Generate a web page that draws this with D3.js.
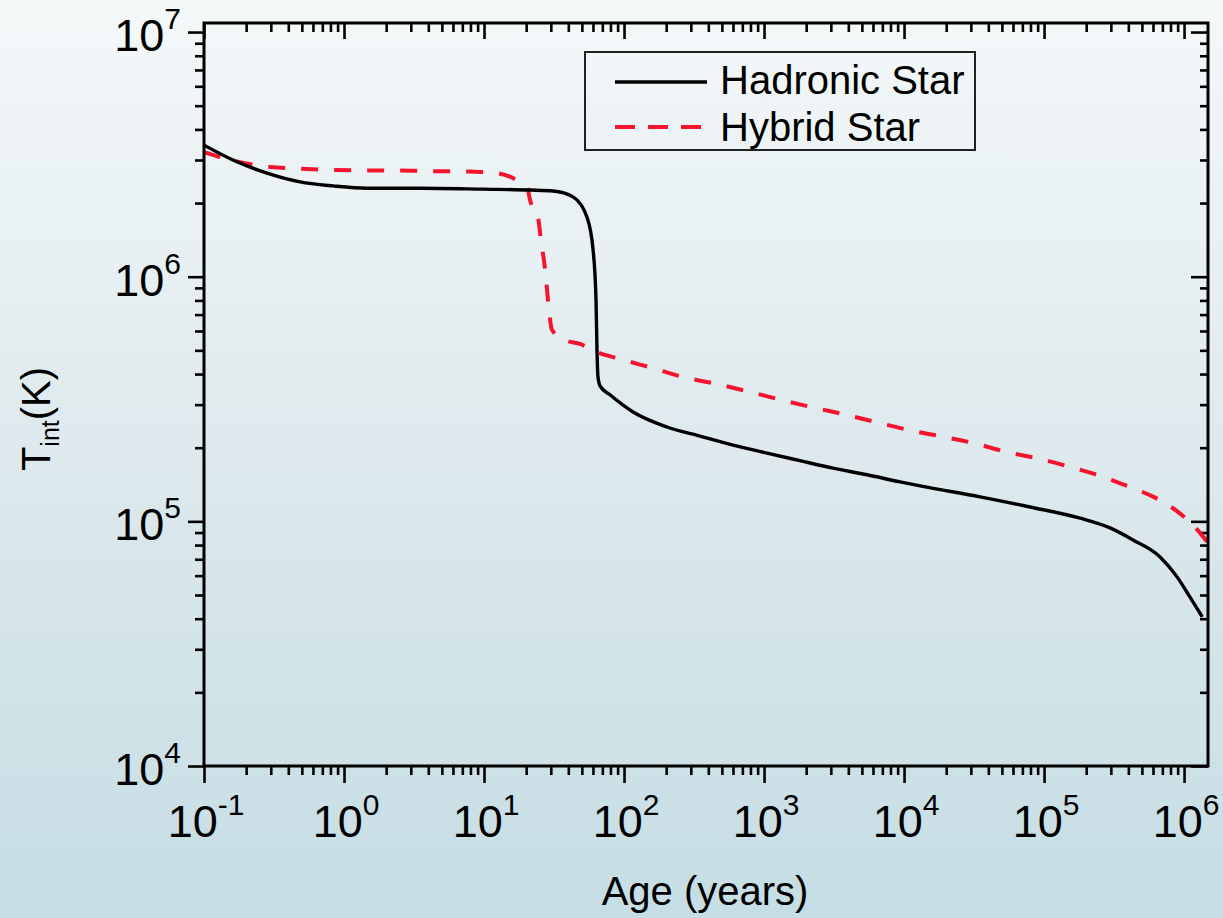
<!DOCTYPE html>
<html>
<head>
<meta charset="utf-8">
<script src="https://cdn.jsdelivr.net/npm/d3@7"></script>
<style>
  html, body { margin: 0; padding: 0; }
  body { width: 1223px; height: 918px; overflow: hidden; }
  svg text { font-family: "Liberation Sans", Arial, Helvetica, sans-serif; fill: #000; }
</style>
</head>
<body>
<svg id="chart" width="1223" height="918"></svg>
<script>
// Cooling curves: internal temperature vs. age
const seriesNames = ["Hadronic Star", "Hybrid Star"];

const hadronicAge = [0.1, 0.161, 0.282, 0.485, 0.834, 1.46, 3.49, 9.84, 21.3, 31.1,
  43.2, 54.4, 60.1, 63.1, 64.1, 65.2, 67.4, 79.4, 116, 203,
  349, 601, 1050, 1807, 3112, 5445, 9360, 1.46e4, 3.49e4, 7.94e4,
  1.81e5, 2.96e5, 4.32e5, 6.74e5, 8.91e5, 1.10e6, 1.35e6];
const hadronicTemp = [3.45e6, 3.00e6, 2.65e6, 2.44e6, 2.35e6, 2.30e6, 2.30e6, 2.28e6, 2.26e6, 2.24e6,
  2.12e6, 1.75e6, 1.29e6, 8.03e5, 5.01e5, 3.89e5, 3.58e5, 3.29e5, 2.80e5, 2.43e5,
  2.23e5, 2.05e5, 1.90e5, 1.77e5, 1.65e5, 1.55e5, 1.45e5, 1.38e5, 1.26e5, 1.145e5,
  1.03e5, 9.4e4, 8.39e4, 7.15e4, 5.93e4, 4.91e4, 4.07e4];

const hybridAge = [0.1, 0.181, 0.296, 0.462, 0.834, 1.46, 2.51, 4.32, 7.56, 12.4,
  17.2, 20.3, 21.3, 24.3, 25.5, 27.3, 28.2, 29.1, 30.6, 37.9,
  48.5, 64.1, 93.6, 158, 264, 462, 794, 1345, 2312, 3917,
  6740, 1.16e4, 1.81e4, 3.11e4, 5.44e4, 9.36e4, 1.53e5, 2.64e5, 4.11e5, 6.21e5,
  9.68e5, 1.30e6, 1.48e6];
const hybridTemp = [3.23e6, 2.94e6, 2.81e6, 2.77e6, 2.73e6, 2.72e6, 2.72e6, 2.70e6, 2.69e6, 2.65e6,
  2.48e6, 2.33e6, 2.06e6, 1.75e6, 1.41e6, 1.07e6, 8.82e5, 7.31e5, 6.06e5, 5.51e5,
  5.31e5, 4.92e5, 4.61e5, 4.24e5, 3.89e5, 3.64e5, 3.38e5, 3.13e5, 2.91e5, 2.72e5,
  2.52e5, 2.34e5, 2.23e5, 2.09e5, 1.92e5, 1.80e5, 1.67e5, 1.52e5, 1.38e5, 1.25e5,
  1.06e5, 8.97e4, 8.16e4];

const xTickExponents = [-1, 0, 1, 2, 3, 4, 5, 6];
const yTickExponents = [4, 5, 6, 7];
const xLabel = "Age (years)";
const yLabelMain = "T", yLabelSub = "int", yLabelUnit = "(K)";

// ---- layout ----
const svg = d3.select("#chart");
const W = 1223, H = 918;
const plot = { left: 204, right: 1208, top: 23, bottom: 766 };

const x = d3.scaleLog().domain([0.1, Math.pow(10, 6.171)]).range([plot.left, plot.right]);
const y = d3.scaleLog().domain([1e4, Math.pow(10, 7.037)]).range([plot.bottom, plot.top]);

// background wash
const defs = svg.append("defs");
const grad = defs.append("linearGradient").attr("id", "bg").attr("x1", 0).attr("y1", 0).attr("x2", 0).attr("y2", 1);
grad.append("stop").attr("offset", "0%").attr("stop-color", "#f4f8f9");
grad.append("stop").attr("offset", "50%").attr("stop-color", "#dde9ed");
grad.append("stop").attr("offset", "100%").attr("stop-color", "#c5dde4");
svg.append("rect").attr("width", W).attr("height", H).attr("fill", "url(#bg)");

defs.append("clipPath").attr("id", "plotclip").append("rect")
  .attr("x", plot.left).attr("y", plot.top)
  .attr("width", plot.right - plot.left).attr("height", plot.bottom - plot.top);

// tick values
function minorTicks(scale) {
  const [a, b] = scale.domain();
  const out = [];
  for (let e = Math.floor(Math.log10(a)); e <= Math.ceil(Math.log10(b)); e++) {
    for (let k = 2; k <= 9; k++) {
      const v = k * Math.pow(10, e);
      if (v > a && v < b) out.push(v);
    }
  }
  return out;
}
const xMajor = xTickExponents.map(e => Math.pow(10, e));
const yMajor = yTickExponents.map(e => Math.pow(10, e));
const xMinor = minorTicks(x);
const yMinor = minorTicks(y);

function styleAxis(g) {
  g.select(".domain").remove();
  g.selectAll(".tick line").attr("stroke", "#000").attr("stroke-width", 2.6);
  g.selectAll(".tick text").remove();
}

// bottom (outward)
svg.append("g").attr("transform", `translate(0,${plot.bottom})`)
  .call(d3.axisBottom(x).tickValues(xMinor).tickSize(9).tickFormat("")).call(styleAxis);
svg.append("g").attr("transform", `translate(0,${plot.bottom})`)
  .call(d3.axisBottom(x).tickValues(xMajor).tickSize(17).tickFormat("")).call(styleAxis);
// top (inward)
svg.append("g").attr("transform", `translate(0,${plot.top})`)
  .call(d3.axisBottom(x).tickValues(xMinor).tickSize(9).tickFormat("")).call(styleAxis);
svg.append("g").attr("transform", `translate(0,${plot.top})`)
  .call(d3.axisBottom(x).tickValues(xMajor).tickSize(16).tickFormat("")).call(styleAxis);
// left (outward)
svg.append("g").attr("transform", `translate(${plot.left},0)`)
  .call(d3.axisLeft(y).tickValues(yMinor).tickSize(9).tickFormat("")).call(styleAxis);
svg.append("g").attr("transform", `translate(${plot.left},0)`)
  .call(d3.axisLeft(y).tickValues(yMajor).tickSize(16).tickFormat("")).call(styleAxis);
// right (inward)
svg.append("g").attr("transform", `translate(${plot.right},0)`)
  .call(d3.axisLeft(y).tickValues(yMinor).tickSize(8).tickFormat("")).call(styleAxis);
svg.append("g").attr("transform", `translate(${plot.right},0)`)
  .call(d3.axisLeft(y).tickValues(yMajor).tickSize(17).tickFormat("")).call(styleAxis);

// tick labels: 10 with superscript exponent
function powerLabel(sel, e) {
  sel.append("tspan").text("10");
  sel.append("tspan").attr("dy", -22).attr("font-size", 30).text(e < 0 ? "-" + Math.abs(e) : String(e));
}
xTickExponents.forEach(e => {
  const t = svg.append("text").attr("x", x(Math.pow(10, e)) + 2).attr("y", 837)
    .attr("text-anchor", "middle").attr("font-size", 45);
  powerLabel(t, e);
});
yTickExponents.forEach(e => {
  const t = svg.append("text").attr("x", 181).attr("y", y(Math.pow(10, e)) + 19)
    .attr("text-anchor", "end").attr("font-size", 45);
  powerLabel(t, e);
});

// curves
const line = d3.line().x(d => x(d[0])).y(d => y(d[1])).curve(d3.curveMonotoneX);
const hadronic = hadronicAge.map((a, i) => [a, hadronicTemp[i]]);
const hybrid = hybridAge.map((a, i) => [a, hybridTemp[i]]);

const curves = svg.append("g").attr("clip-path", "url(#plotclip)");
curves.append("path").datum(hybrid).attr("d", line)
  .attr("fill", "none").attr("stroke", "#f5142e").attr("stroke-width", 4)
  .attr("stroke-dasharray", "17,16");
curves.append("path").datum(hadronic).attr("d", line)
  .attr("fill", "none").attr("stroke", "#000").attr("stroke-width", 3.4)
  .attr("stroke-linejoin", "round");

// frame
svg.append("rect").attr("x", plot.left).attr("y", plot.top)
  .attr("width", plot.right - plot.left).attr("height", plot.bottom - plot.top)
  .attr("fill", "none").attr("stroke", "#000").attr("stroke-width", 3);

// legend
const lg = svg.append("g");
lg.append("rect").attr("x", 585).attr("y", 52).attr("width", 390).attr("height", 98)
  .attr("fill", "none").attr("stroke", "#222").attr("stroke-width", 2);
lg.append("line").attr("x1", 615).attr("x2", 707).attr("y1", 82).attr("y2", 82)
  .attr("stroke", "#000").attr("stroke-width", 3.4);
lg.append("line").attr("x1", 615).attr("x2", 702).attr("y1", 127).attr("y2", 127)
  .attr("stroke", "#f5142e").attr("stroke-width", 4).attr("stroke-dasharray", "20,13");
lg.append("text").attr("x", 720).attr("y", 94).attr("font-size", 40).text(seriesNames[0]);
lg.append("text").attr("x", 720).attr("y", 141).attr("font-size", 40).text(seriesNames[1]);

// axis titles
svg.append("text").attr("x", 705).attr("y", 905).attr("text-anchor", "middle")
  .attr("font-size", 40).text(xLabel);
const yt = svg.append("text").attr("transform", "translate(50,419) rotate(-90)")
  .attr("text-anchor", "middle").attr("font-size", 40);
yt.append("tspan").text(yLabelMain);
yt.append("tspan").attr("dy", 9).attr("font-size", 25).text(yLabelSub);
yt.append("tspan").attr("dy", -9).text(yLabelUnit);
</script>
</body>
</html>
